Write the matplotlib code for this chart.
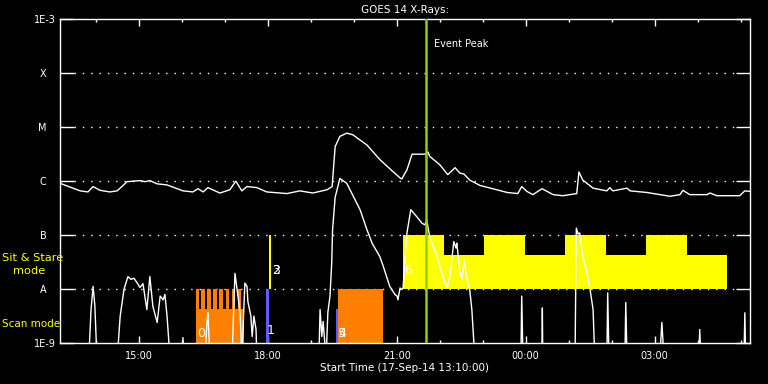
import numpy as np
import matplotlib
matplotlib.use('Agg')
import matplotlib.pyplot as plt
from matplotlib.ticker import FixedLocator

# times are hours after 17-Sep-14 13:10:00, flux given as log10(W/m^2)
long_t = [0.00, 0.47, 0.65, 0.77, 0.93, 1.16, 1.33, 1.56, 1.86, 1.98, 2.09, 2.26, 2.49, 2.86,
          3.09, 3.21, 3.33, 3.44, 3.72, 3.95, 4.09, 4.23, 4.35, 4.58, 4.81, 5.28, 5.58, 5.88,
          6.21, 6.33, 6.40, 6.51, 6.67, 6.81, 7.14, 7.44, 7.74, 7.91, 7.95, 8.07, 8.19, 8.49,
          8.56, 8.60, 8.84, 9.02, 9.19, 9.30, 9.40, 9.53, 9.77, 10.16, 10.40, 10.65, 10.74,
          10.86, 11.00, 11.21, 11.33, 11.47, 11.70, 12.02, 12.07, 12.16, 12.40, 12.72, 12.79,
          12.86, 13.19, 13.26, 13.65, 13.88, 14.19, 14.42, 14.49, 14.65, 15.05, 15.12, 15.28,
          15.81, 15.93, 16.05]
long_log = [-6.04, -6.18, -6.20, -6.10, -6.17, -6.20, -6.18, -6.01, -5.99, -6.01, -5.99, -6.05,
            -6.07, -6.18, -6.20, -6.14, -6.20, -6.12, -6.22, -6.16, -6.00, -6.18, -6.10, -6.12,
            -6.20, -6.23, -6.18, -6.22, -6.16, -6.10, -5.36, -5.17, -5.11, -5.14, -5.33, -5.60,
            -5.82, -5.94, -5.96, -5.79, -5.50, -5.50, -5.46, -5.54, -5.70, -5.88, -5.75, -5.85,
            -5.87, -5.98, -6.08, -6.16, -6.21, -6.23, -6.10, -6.19, -6.25, -6.14, -6.19, -6.25,
            -6.27, -6.23, -5.83, -5.98, -6.13, -6.18, -6.12, -6.18, -6.13, -6.18, -6.21, -6.24,
            -6.28, -6.25, -6.17, -6.25, -6.25, -6.22, -6.27, -6.27, -6.18, -6.19]

short_t = [0.00, 0.67, 0.72, 0.77, 0.81, 0.86, 1.33, 1.40, 1.49, 1.58, 1.65, 1.72, 1.79, 1.86,
           1.93, 2.02, 2.09, 2.16, 2.26, 2.33, 2.40, 2.44, 2.49, 2.56, 2.84, 2.86, 2.88, 3.37,
           3.42, 3.44, 3.49, 4.00, 4.07, 4.12, 4.19, 4.23, 4.30, 4.35, 4.37, 4.44, 4.47, 4.51,
           4.56, 4.58, 6.02, 6.05, 6.09, 6.12, 6.19, 6.23, 6.28, 6.32, 6.34, 6.40, 6.51, 6.67,
           6.98, 7.14, 7.26, 7.44, 7.52, 7.67, 7.79, 7.84, 7.86, 7.91, 7.95, 7.98, 8.07, 8.16,
           8.30, 8.42, 8.49, 8.53, 8.60, 8.77, 8.88, 9.00, 9.07, 9.16, 9.21, 9.23, 9.30, 9.35,
           9.40, 9.47, 9.53, 9.58, 9.65, 10.72, 10.74, 10.77, 11.21, 11.22, 11.23, 11.98, 12.01,
           12.05, 12.09, 12.16, 12.26, 12.33, 12.40, 12.44, 12.72, 12.74, 12.77, 13.14, 13.16,
           13.19, 13.95, 14.00, 14.05, 14.86, 14.88, 14.91, 15.91, 15.93, 15.95, 16.05]
short_log = [-9.3, -9.3, -8.4, -7.95, -8.3, -9.3, -9.3, -8.5, -8.0, -7.77, -7.82, -7.80, -7.88,
             -7.97, -7.90, -8.38, -7.77, -8.32, -8.62, -8.13, -8.20, -8.10, -8.50, -9.3, -9.3,
             -8.9, -9.3, -9.3, -8.6, -8.44, -9.3, -9.3, -7.71, -8.01, -8.44, -9.3, -7.89, -7.95,
             -8.23, -8.50, -8.88, -8.50, -8.75, -9.3, -9.3, -8.38, -8.88, -8.60, -9.3, -8.44,
             -8.13, -7.52, -6.90, -6.30, -5.95, -6.04, -6.53, -6.90, -7.15, -7.40, -7.58, -7.95,
             -8.10, -8.13, -8.20, -7.98, -8.01, -7.98, -6.96, -6.53, -6.66, -6.78, -6.81, -6.72,
             -7.03, -7.40, -7.70, -7.98, -7.77, -7.12, -7.24, -7.15, -7.67, -7.83, -7.46, -7.83,
             -8.01, -8.38, -9.3, -9.3, -8.13, -9.3, -9.3, -8.35, -9.3, -9.3, -6.87, -6.98, -6.96,
             -7.40, -7.70, -8.01, -8.38, -9.3, -9.3, -8.07, -9.3, -9.3, -8.25, -9.3, -9.3, -8.62,
             -9.3, -9.3, -8.75, -9.3, -9.3, -8.44, -9.3, -9.3]

# observing modes: start (h), duration (h), bottom flux, top flux
scan_start = [3.16, 3.16, 3.29, 3.43, 3.57, 3.71, 3.85, 3.99, 4.13, 6.47]
scan_dur = [1.12, 0.07, 0.09, 0.09, 0.09, 0.09, 0.09, 0.09, 0.07, 1.04]
scan_lo = [1e-9] * 10
scan_hi = [4.2e-9, 1e-8, 1e-8, 1e-8, 1e-8, 1e-8, 1e-8, 1e-8, 1e-8, 1e-8]

blue_start = [4.79, 6.42]
blue_dur = [0.07, 0.05]
blue_lo = [1e-9, 1e-9]
blue_hi = [1e-8, 4.2e-9]

sit_start = [4.86, 7.98, 7.98, 9.86, 11.74, 13.63]
sit_dur = [0.04, 7.53, 0.95, 0.95, 0.96, 0.95]
sit_lo = [1e-8] * 6
sit_hi = [1e-7, 4.2e-8, 1e-7, 1e-7, 1e-7, 1e-7]

obs_labels = ['0', '1', '2', '3', '4', '5', '6']
obs_t = [3.28, 4.91, 5.02, 5.02, 6.56, 6.56, 8.09]
obs_flux = [1.5e-9, 1.7e-9, 2.2e-8, 2.2e-8, 1.5e-9, 1.5e-9, 2.2e-8]

peak_t = 8.51
tick_hours = [1.833, 4.833, 7.833, 10.833, 13.833]
tick_names = ['15:00', '18:00', '21:00', '00:00', '03:00']
level_flux = [1e-9, 1e-8, 1e-7, 1e-6, 1e-5, 1e-4, 1e-3]
level_names = ['1E-9', 'A   ', 'B   ', 'C   ', 'M   ', 'X   ', '1E-3']

plt.rcParams['font.family'] = 'DejaVu Sans'
fig = plt.figure(figsize=(7.68, 3.84), dpi=100, facecolor='black')
ax = fig.add_axes([60 / 768, 1 - 343 / 384, 690 / 768, 323.7 / 384])
ax.set_facecolor('black')
ax.set_yscale('log')
ax.set_xlim(0, 16.05)
ax.set_ylim(1e-9, 1e-3)

def mode_bars(st, du, lo, hi, col):
    ax.bar(st, np.array(hi) - np.array(lo), width=du, bottom=lo, align='edge',
           color=col, linewidth=0, zorder=2)

mode_bars(scan_start, scan_dur, scan_lo, scan_hi, '#ff8000')
mode_bars(blue_start, blue_dur, blue_lo, blue_hi, '#5c5cff')
mode_bars(sit_start, sit_dur, sit_lo, sit_hi, '#ffff00')

ax.plot(long_t, 10 ** np.array(long_log), color='white', lw=1.0, zorder=3)
ax.plot(short_t, 10 ** np.array(short_log), color='white', lw=1.0, zorder=3)

ax.axvline(peak_t, color='#99cc00', lw=1.8, zorder=4)
ax.text(peak_t + 0.2, 10 ** -3.45, 'Event Peak', color='white', fontsize=7, va='center', zorder=5)

for lab, t, f in zip(obs_labels, obs_t, obs_flux):
    ax.text(t, f, lab, color='white', fontsize=9, ha='center', va='center', zorder=5)

# dotted grid between the inner tick marks
for f in level_flux[1:-1]:
    ax.plot([0.33, 15.72], [f, f], color='white', lw=1.0, ls=(0, (1, 5)), zorder=1)

ax.yaxis.set_major_locator(FixedLocator(level_flux))
ax.set_yticklabels(level_names)
ax.yaxis.set_minor_locator(FixedLocator([]))
ax.xaxis.set_major_locator(FixedLocator(tick_hours))
ax.set_xticklabels(tick_names)
ax.xaxis.set_minor_locator(FixedLocator([h + 0.833 for h in range(-1, 16)]))
ax.tick_params(axis='y', which='major', direction='in', length=10, width=1, colors='white',
               labelsize=7, right=True, pad=3)
ax.tick_params(axis='x', which='major', direction='in', length=5, width=1, colors='white',
               labelsize=7, top=True, pad=6)
ax.tick_params(axis='x', which='minor', direction='in', length=2.5, width=1, colors='white',
               top=True)
for s in ax.spines.values():
    s.set_color('white')
    s.set_linewidth(1.0)

fig.text(405 / 768, 1 - 10 / 384, 'GOES 14 X-Rays:', color='white', fontsize=7.5,
         ha='center', va='center')
fig.text(405 / 768, 1 - 368 / 384, 'Start Time (17-Sep-14 13:10:00)', color='white',
         fontsize=7.5, ha='center', va='center')
fig.text(2 / 768, 1 - 258 / 384, 'Sit & Stare', color='#ffff00', fontsize=8.2, va='center')
fig.text(13 / 768, 1 - 271 / 384, 'mode', color='#ffff00', fontsize=8.2, va='center')
fig.text(2 / 768, 1 - 324 / 384, 'Scan mode', color='#ffff00', fontsize=7.5, va='center')

fig.savefig('out.png', dpi=100, facecolor='black')
